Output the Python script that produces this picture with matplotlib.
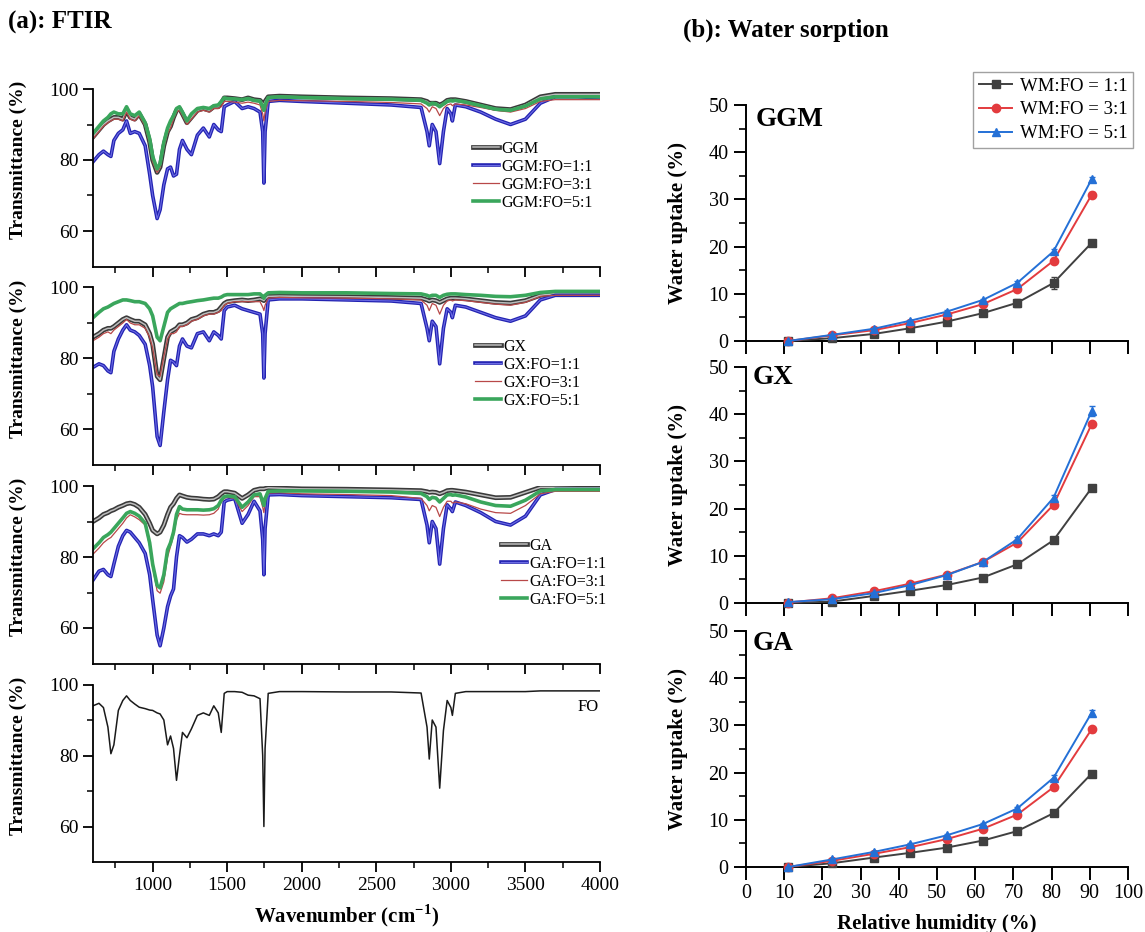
import matplotlib
matplotlib.use('Agg')
import matplotlib.pyplot as plt
import matplotlib.patheffects as pe
from matplotlib.lines import Line2D
from matplotlib.ticker import MultipleLocator, FixedLocator

plt.rcParams['font.family'] = ['Liberation Serif', 'DejaVu Serif']
plt.rcParams['mathtext.fontset'] = 'custom'
plt.rcParams['mathtext.rm'] = 'Liberation Serif'
plt.rcParams['mathtext.bf'] = 'Liberation Serif:bold'

W, H = 1145, 932

wavenumber = [600, 640, 670, 700, 720, 740, 770, 800, 825, 850, 880, 910, 950, 980, 1000,
              1030, 1050, 1075, 1100, 1120, 1140, 1160, 1180, 1200, 1230, 1260, 1300, 1340,
              1380, 1410, 1440, 1460, 1480, 1500, 1550, 1600, 1640, 1680, 1720, 1738, 1746,
              1754, 1775, 1850, 2000, 2300, 2600, 2800, 2840, 2855, 2875, 2900, 2925, 2950,
              2975, 3000, 3010, 3030, 3100, 3200, 3300, 3400, 3500, 3600, 3700, 3850, 4000]

ggm = [86.5, 88.5, 90, 91, 91.5, 92, 92, 91.5, 94, 92, 91.5, 93, 90, 85, 80,
       76.5, 78, 84, 88, 89.5, 92, 94, 94.5, 93, 90.5, 92, 94, 94.5,
       94, 95, 95, 96, 97.5, 97.5, 97.3, 97, 97.5, 97, 96.8, 96, 95.5,
       96.5, 97.8, 98, 97.8, 97.5, 97.3, 97, 96.5, 96, 96, 96, 95.5, 96,
       96.8, 97, 97, 97, 96.5, 95.5, 94.5, 94.2, 95.5, 97.8, 98.5, 98.5, 98.5]
ggm_fo_11 = [79.5, 81.5, 82.5, 81.5, 81, 85.5, 87.5, 88.5, 91, 87.5, 88, 87.5, 84, 76, 70,
             63.5, 66, 73, 77.5, 78, 75.5, 76, 83, 85.5, 83, 81.5, 87, 89,
             86.5, 90, 88.5, 88, 95, 95.5, 96.5, 94.5, 95, 94.5, 93.5, 88, 73.5,
             88, 96.5, 96.8, 96.5, 96, 95.5, 94.8, 88, 84, 90, 88, 79, 88,
             94.5, 93, 91, 95.5, 95, 93.5, 91.5, 90, 91.5, 96, 97.8, 97.8, 97.5]
ggm_fo_31 = [86, 88, 89.5, 90.5, 91, 91.5, 91.5, 91, 93.5, 91.5, 91, 92.5, 89.5, 84.5, 79.5,
             76.5, 78, 83.5, 87.5, 89, 91.5, 93.5, 94, 92.5, 90, 91.5, 93.5, 94,
             93.5, 94.5, 94.5, 95, 96.5, 96.5, 96.3, 96, 96.3, 96, 95.5, 93, 91,
             93.5, 96.5, 96.8, 96.7, 96.5, 96.2, 95.8, 94.5, 93.5, 95, 94.5, 92.5, 94.5,
             95.5, 95.8, 95.3, 95.8, 95.5, 94.8, 94, 93.5, 94.5, 96.5, 97, 97, 97]
ggm_fo_51 = [87.5, 89.5, 91, 92, 93, 93.5, 93, 93, 95, 93, 92.5, 93.5, 90.5, 86, 81,
             77.5, 79, 85, 89, 91, 92.5, 94.5, 95, 93.5, 91, 93, 94.5, 94.8,
             94.5, 95.3, 95.5, 96.5, 97.5, 97.3, 97.2, 97, 97.3, 96.8, 96.6, 95, 94,
             95.5, 97.6, 97.8, 97.6, 97.3, 97.1, 96.8, 96, 95.5, 96, 95.8, 95, 95.8,
             96.5, 96.8, 96.6, 96.8, 96.3, 95.3, 94.3, 94, 95.2, 97.2, 97.8, 97.8, 97.8]

gx = [86, 87, 88, 88.5, 88.5, 89, 90, 91, 91.5, 91, 90.5, 90.5, 89.5, 87, 84,
      75, 74, 80, 86, 87.5, 88, 88.5, 89.5, 89.5, 90, 91, 91.5, 92.5,
      93, 93, 93.5, 94.5, 95.5, 96, 96.3, 96.5, 96.3, 96.5, 96.8, 96.5, 96.3,
      96.8, 97.5, 97.6, 97.5, 97.4, 97.2, 97, 96.5, 96.2, 96.5, 96.3, 95.8, 96.3,
      96.8, 97, 97, 97, 96.8, 96.3, 95.8, 95.6, 96.3, 97.8, 98.3, 98.3, 98.3]
gx_fo_11 = [77.5, 78.5, 78, 76.5, 76, 82, 85.5, 88, 89.5, 88, 87.5, 86.5, 84, 78, 72,
            58, 55.5, 65, 74, 79.5, 79, 78, 83.5, 85.5, 83.5, 83, 87, 87.5,
            85, 87.5, 86.5, 85.5, 93.5, 94.5, 95, 94, 93.5, 93, 92.5, 87, 74.5,
            87, 96.5, 96.8, 96.8, 96.5, 96.2, 95.5, 88.5, 85, 90.5, 89, 78.5, 88.5,
            94, 93, 91.5, 95, 94.5, 93, 91.5, 90.5, 92, 96.5, 97.8, 97.8, 97.8]
gx_fo_31 = [85, 86, 87, 87.5, 87, 88, 89, 90, 91, 90, 89.5, 89.5, 88.5, 86, 83,
            75.5, 75, 80.5, 85.5, 87, 87, 87.5, 89, 89, 89.5, 90.5, 91, 92,
            92.5, 92.5, 93, 93.5, 95, 95.5, 96, 96, 96, 96, 96, 94.5, 93.5,
            95, 97, 97.2, 97.1, 97, 96.8, 96.5, 95, 93.5, 95.5, 95, 92.5, 95,
            96.2, 96.5, 96.2, 96.5, 96.3, 95.8, 95.3, 95, 95.8, 97.5, 97.8, 97.8, 97.8]
gx_fo_51 = [91.5, 93, 94, 94.5, 95, 95.5, 96, 96.5, 96.5, 96.3, 96, 96, 95.5, 94, 92,
            86, 85, 89, 93, 94, 94.5, 95, 95.5, 95.5, 95.8, 96, 96.3, 96.5,
            96.8, 97, 97, 97.3, 97.8, 98, 98, 98, 98, 98.2, 98.2, 97.5, 97,
            97.8, 98.5, 98.6, 98.5, 98.5, 98.3, 98.2, 97.8, 97.5, 97.8, 97.8, 97.2, 97.8,
            98.1, 98.2, 98.2, 98.2, 98, 97.8, 97.5, 97.4, 97.8, 98.6, 98.9, 98.9, 98.9]

ga = [90, 91, 92, 92.5, 93, 93.3, 94, 94.5, 95, 95.2, 94.8, 94, 92, 89.5, 87.5,
      86.5, 87, 89, 92, 94, 95, 96.5, 97.5, 97.2, 96.8, 96.6, 96.5, 96.3,
      96.2, 96.3, 97, 97.8, 98.4, 98.4, 98, 96.5, 97.5, 98.8, 99.2, 99.2, 99.2,
      99.3, 99.5, 99.4, 99.2, 99.1, 98.9, 98.7, 98.4, 98.2, 98.3, 98.2, 97.8, 98.2,
      98.7, 98.8, 98.8, 98.7, 98.3, 97.5, 96.7, 96.8, 98.2, 99.6, 99.6, 99.5, 99.5]
ga_fo_11 = [73.5, 76, 76.5, 75, 74.5, 78, 83, 86, 87.5, 87, 85.5, 84, 81, 75, 68,
            58, 55, 60, 66, 69, 71, 80, 86, 85.5, 84.2, 85, 86.5, 86.5,
            86, 86.5, 86, 87, 95.5, 96, 96.5, 89.5, 92, 95.7, 93, 85, 75,
            88, 97.5, 97.6, 97.3, 97, 96.7, 96.2, 89, 84, 90, 88, 78, 88,
            94.7, 93.5, 92.8, 95.5, 94.5, 92.5, 90, 89, 91.5, 97.5, 99, 99, 99]
ga_fo_31 = [80.8, 82.5, 84, 85, 85.5, 86.5, 88, 89.5, 91, 91.9, 91.3, 90.5, 89, 83, 77,
            70.5, 69.8, 73, 80, 83, 86, 90.5, 92.3, 92, 91.9, 91.9, 91.9, 91.8,
            91.9, 92.3, 93.5, 95.5, 96.5, 96.8, 96.5, 92.8, 94.5, 97, 97, 94, 92.5,
            95.5, 98, 98.1, 97.8, 97.6, 97.3, 96.5, 94.5, 93, 94.5, 94, 91.4, 94,
            95.7, 95.7, 95.2, 95.5, 95, 93.5, 92.5, 92.3, 94.5, 97.8, 98.5, 98.5, 98.5]
ga_fo_51 = [82.3, 84, 85.5, 86.3, 87, 88, 89.5, 91, 92.3, 92.8, 92.3, 91.5, 89.5, 84, 78,
            72, 71.3, 75, 82, 84, 87, 92, 94.2, 93.5, 93.3, 93.3, 93.3, 93.2,
            93.3, 93.6, 94.5, 96, 97, 97.2, 97, 94, 95.5, 97.5, 97.8, 95.5, 94.5,
            96.5, 98.5, 98.6, 98.6, 98.5, 98.3, 97.9, 97, 96.2, 96.8, 96.6, 95.5, 96.5,
            97.5, 97.6, 97.4, 97.5, 96.9, 95.5, 94.5, 94.3, 96, 98.6, 99, 99, 99]

fo = [94, 94.7, 93.5, 88, 80.5, 83, 92.7, 95.5, 96.8, 95.5, 94.5, 93.6, 93.2, 92.8, 92.7,
      92, 91.7, 90, 83, 85.5, 82, 73, 80, 86.5, 85, 87.5, 91.3, 92,
      91.3, 94, 92, 86.5, 97.5, 98, 98, 97.8, 97, 96.8, 96, 80, 60,
      82, 97.5, 98, 98, 97.9, 97.9, 97.6, 88, 79, 90, 88, 70.8, 87,
      95.5, 93.5, 91.3, 97.5, 98, 98, 98, 98, 98, 98.2, 98.2, 98.2, 98.2]

panel_names = ['GGM', 'GX', 'GA']
ratio_labels = ['FO=1:1', 'FO=3:1', 'FO=5:1']

# ---------------- Water sorption data ----------------
rh = [11, 22.5, 33.5, 43, 52.5, 62, 71, 80.5, 90.5]

ggm_11 = [0, 0.6, 1.5, 2.7, 4.1, 5.9, 8.1, 12.3, 20.8]
ggm_31 = [0, 1.2, 2.3, 3.8, 5.6, 7.8, 11.0, 17.0, 31.0]
ggm_51 = [0, 1.3, 2.6, 4.3, 6.2, 8.7, 12.3, 19.0, 34.3]
gx_11 = [0, 0.3, 1.5, 2.6, 3.8, 5.4, 8.2, 13.3, 24.4]
gx_31 = [0.1, 1.0, 2.5, 4.1, 6.0, 8.7, 12.8, 20.8, 37.9]
gx_51 = [0.2, 0.8, 2.1, 3.8, 5.9, 8.7, 13.5, 22.3, 40.7]
ga_11 = [0, 0.8, 2.0, 3.0, 4.1, 5.6, 7.6, 11.4, 19.8]
ga_31 = [0, 1.3, 2.8, 4.2, 5.9, 8.1, 11.1, 16.9, 29.2]
ga_51 = [0, 1.6, 3.2, 4.8, 6.7, 9.1, 12.4, 18.9, 32.7]

ggm_11_err = [0.1, 0.2, 0.2, 0.3, 0.3, 0.4, 0.9, 1.2, 0.5]
ggm_31_err = [0.1, 0.2, 0.2, 0.2, 0.3, 0.3, 0.4, 0.5, 0.5]
ggm_51_err = [0.1, 0.2, 0.2, 0.2, 0.3, 0.3, 0.4, 0.5, 0.5]
gx_11_err = [0.1, 0.1, 0.2, 0.2, 0.3, 0.3, 0.4, 0.5, 0.5]
gx_31_err = [0.1, 0.2, 0.2, 0.2, 0.3, 0.3, 0.4, 0.5, 0.5]
gx_51_err = [0.1, 0.2, 0.2, 0.2, 0.3, 0.3, 0.5, 0.6, 1.0]
ga_11_err = [0.1, 0.1, 0.2, 0.2, 0.3, 0.3, 0.3, 0.4, 0.5]
ga_31_err = [0.1, 0.2, 0.2, 0.2, 0.3, 0.3, 0.4, 0.5, 0.5]
ga_51_err = [0.1, 0.2, 0.2, 0.2, 0.3, 0.3, 0.4, 0.5, 0.5]

sorption_labels = ['WM:FO = 1:1', 'WM:FO = 3:1', 'WM:FO = 5:1']

fig = plt.figure(figsize=(W / 100, H / 100), dpi=100)


def px_axes(left, top, right, bottom):
    # place an axes using pixel coordinates measured from the top-left corner
    return fig.add_axes([left / W, 1 - bottom / H, (right - left) / W, (bottom - top) / H])


def px(x, y):
    return (x / W, 1 - y / H)


# ---------------- (a) FTIR ----------------
gray_fx = [pe.Stroke(linewidth=3.4, foreground='#3a3a3a'), pe.Normal()]
blue_fx = [pe.Stroke(linewidth=2.6, foreground='#2323b2'), pe.Normal()]

ftir_sets = [
    (ggm, ggm_fo_11, ggm_fo_31, ggm_fo_51),
    (gx, gx_fo_11, gx_fo_31, gx_fo_51),
    (ga, ga_fo_11, ga_fo_31, ga_fo_51),
]
panel_bottoms = [266.5, 465, 663.5, 862]
legend_corners = [(473, 141), (475, 339), (501, 538)]

for i, bottom in enumerate(panel_bottoms):
    ax = px_axes(93, bottom - 177.5, 600, bottom)
    ax.set_xlim(600, 4000)
    ax.set_ylim(50, 100)
    ax.spines['top'].set_visible(False)
    ax.spines['right'].set_visible(False)
    for s in ['left', 'bottom']:
        ax.spines[s].set_linewidth(1.3)
    ax.xaxis.set_major_locator(FixedLocator([1000, 1500, 2000, 2500, 3000, 3500, 4000]))
    ax.xaxis.set_minor_locator(FixedLocator([750, 1250, 1750, 2250, 2750, 3250, 3750]))
    ax.yaxis.set_major_locator(FixedLocator([60, 80, 100]))
    ax.yaxis.set_minor_locator(FixedLocator([70, 90]))
    ax.tick_params(which='major', direction='out', length=7, width=1.3, labelsize=14)
    ax.tick_params(which='minor', direction='out', length=4, width=1.1)
    ax.set_ylabel('Transmittance (%)', fontsize=14, fontweight='bold')
    ax.yaxis.set_label_coords(-0.13, 0.6)
    if i < 3:
        ax.tick_params(axis='x', labelbottom=False)
        base, r11, r31, r51 = ftir_sets[i]
        name = panel_names[i]
        ax.plot(wavenumber, base, color='#bdbdbd', lw=1.1, path_effects=gray_fx, label=name)
        ax.plot(wavenumber, r11, color='#6c6ce4', lw=0.8, path_effects=blue_fx,
                label=name + ':' + ratio_labels[0])
        ax.plot(wavenumber, r31, color='#b84848', lw=0.9, label=name + ':' + ratio_labels[1])
        ax.plot(wavenumber, r51, color='#3aa65c', lw=2.6, label=name + ':' + ratio_labels[2])
        lx, ly = legend_corners[i]
        ax.legend(loc='upper left', bbox_to_anchor=px(lx, ly), bbox_transform=fig.transFigure,
                  frameon=False, fontsize=11.5, handlelength=1.6, handletextpad=0.15,
                  labelspacing=0.12, borderpad=0, borderaxespad=0)
    else:
        ax.plot(wavenumber, fo, color='#1a1a1a', lw=1.1)
        fig.text(578 / W, 1 - 707 / H, 'FO', fontsize=12, va='center', ha='left')
        ax.set_xlabel(r'Wavenumber (cm$^{\mathbf{-1}}$)', fontsize=15, fontweight='bold',
                      labelpad=6)

fig.text(8 / W, 1 - 22 / H, '(a): FTIR', fontsize=18, fontweight='bold', va='center')

# ---------------- (b) Water sorption ----------------
sorption_sets = [
    ((ggm_11, ggm_31, ggm_51), (ggm_11_err, ggm_31_err, ggm_51_err)),
    ((gx_11, gx_31, gx_51), (gx_11_err, gx_31_err, gx_51_err)),
    ((ga_11, ga_31, ga_51), (ga_11_err, ga_31_err, ga_51_err)),
]
sorp_rows = [(105, 341), (367, 603), (631, 867)]
name_pos = [(756, 119), (753, 378), (753, 643)]
colors = ['#404040', '#e33b3e', '#2470d6']
markers = ['s', 'o', '^']

for i, (top, bottom) in enumerate(sorp_rows):
    ax = px_axes(746, top, 1128, bottom)
    ax.set_xlim(0, 100)
    ax.set_ylim(0, 50)
    ax.spines['top'].set_visible(False)
    ax.spines['right'].set_visible(False)
    for s in ['left', 'bottom']:
        ax.spines[s].set_linewidth(1.4)
    ax.xaxis.set_major_locator(MultipleLocator(10))
    ax.yaxis.set_major_locator(MultipleLocator(10))
    ax.yaxis.set_minor_locator(MultipleLocator(5))
    ax.tick_params(which='major', direction='out', length=9, width=1.4, labelsize=14.5)
    ax.tick_params(which='minor', direction='out', length=5, width=1.2)
    series, errs = sorption_sets[i]
    for j in range(3):
        ax.errorbar(rh, series[j], yerr=errs[j], color=colors[j], marker=markers[j],
                    markersize=6, lw=1.4, capsize=2.5, elinewidth=1.0,
                    clip_on=False, zorder=3 + j)
    ax.set_ylabel('Water uptake (%)', fontsize=15, fontweight='bold')
    ax.yaxis.set_label_coords(-0.152, 0.5)
    nx, ny = name_pos[i]
    fig.text(nx / W, 1 - ny / H, panel_names[i], fontsize=19.5, fontweight='bold', va='center')
    if i < 2:
        ax.tick_params(axis='x', labelbottom=False)
    else:
        fig.text(937 / W, 1 - 914 / H, 'Relative humidity (%)', fontsize=15,
                 fontweight='bold', ha='center', va='top')
    if i == 0:
        handles = [Line2D([], [], color=colors[j], marker=markers[j], markersize=6, lw=1.4)
                   for j in range(3)]
        leg = ax.legend(handles, sorption_labels, loc='upper left', bbox_to_anchor=px(973, 72),
                        bbox_transform=fig.transFigure, fontsize=13.5, frameon=True,
                        fancybox=False, edgecolor='#8a8a8a', handlelength=1.8,
                        handletextpad=0.4, labelspacing=0.35, borderpad=0.3,
                        borderaxespad=0)
        leg.get_frame().set_linewidth(1.0)

fig.text(683 / W, 1 - 30 / H, '(b): Water sorption', fontsize=18, fontweight='bold',
         va='center')

fig.savefig('out.png', dpi=100)
